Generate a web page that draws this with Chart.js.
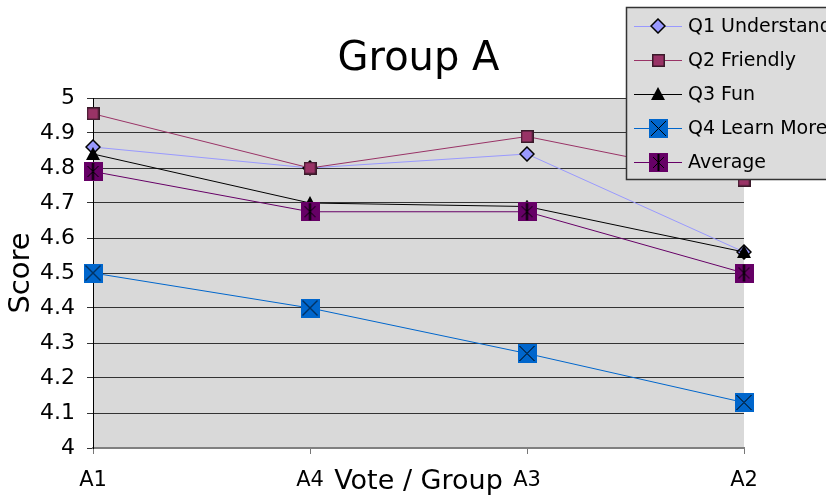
<!DOCTYPE html>
<html>
<head>
<meta charset="utf-8">
<title>Group A</title>
<script src="https://cdn.jsdelivr.net/npm/chart.js@4.4.1/dist/chart.umd.min.js"></script>
<style>
    html, body { margin: 0; padding: 0; background: #fff; }
    .canvas-container { width: 826px; height: 499px; }
</style>
</head>
<body>
<div class="canvas-container"><canvas id="groupChart" width="826" height="499"></canvas></div>
<script>
var categories = ['A1', 'A4', 'A3', 'A2'];
var q1Understand = [4.86, 4.80, 4.84, 4.56];
var q2Friendly = [4.955, 4.80, 4.89, 4.765];
var q3Fun = [4.84, 4.70, 4.69, 4.56];
var q4LearnMore = [4.50, 4.40, 4.27, 4.13];
var average = [4.79, 4.675, 4.675, 4.50];
var yTicks = [4, 4.1, 4.2, 4.3, 4.4, 4.5, 4.6, 4.7, 4.8, 4.9, 5];

(function () {
    'use strict';

    var FONT = '"DejaVu Sans", "Liberation Sans", sans-serif';

    // build a little canvas that chart.js can use as a point style
    var makeMarker = function (kind) {
        var c = document.createElement('canvas');
        var s;
        var ctx;
        if (kind === 'diamond') {
            s = 16;
            c.width = s; c.height = s;
            ctx = c.getContext('2d');
            ctx.beginPath();
            ctx.moveTo(s / 2, 1); ctx.lineTo(s - 1, s / 2); ctx.lineTo(s / 2, s - 1); ctx.lineTo(1, s / 2);
            ctx.closePath();
            ctx.fillStyle = '#9999ff';
            ctx.fill();
            ctx.lineWidth = 1.5;
            ctx.strokeStyle = '#000';
            ctx.stroke();
        } else if (kind === 'square') {
            s = 13;
            c.width = s; c.height = s;
            ctx = c.getContext('2d');
            ctx.fillStyle = '#993366';
            ctx.fillRect(0, 0, s, s);
            ctx.lineWidth = 1.5;
            ctx.strokeStyle = '#3a1a2a';
            ctx.strokeRect(0.75, 0.75, s - 1.5, s - 1.5);
        } else if (kind === 'triangle') {
            s = 14;
            c.width = s; c.height = s;
            ctx = c.getContext('2d');
            ctx.beginPath();
            ctx.moveTo(s / 2, 0); ctx.lineTo(s, s - 1); ctx.lineTo(0, s - 1);
            ctx.closePath();
            ctx.fillStyle = '#000';
            ctx.fill();
        } else if (kind === 'xbox') {
            s = 19;
            c.width = s; c.height = s;
            ctx = c.getContext('2d');
            ctx.fillStyle = '#0066cc';
            ctx.fillRect(0, 0, s, s);
            ctx.strokeStyle = '#000';
            ctx.lineWidth = 1;
            ctx.beginPath();
            ctx.moveTo(2, 2); ctx.lineTo(s - 2, s - 2);
            ctx.moveTo(s - 2, 2); ctx.lineTo(2, s - 2);
            ctx.stroke();
        } else {
            // star box for the average
            s = 19;
            c.width = s; c.height = s;
            ctx = c.getContext('2d');
            ctx.fillStyle = '#660066';
            ctx.fillRect(0, 0, s, s);
            ctx.strokeStyle = '#000';
            ctx.lineWidth = 1;
            ctx.beginPath();
            ctx.moveTo(4, 4); ctx.lineTo(s - 4, s - 4);
            ctx.moveTo(s - 4, 4); ctx.lineTo(4, s - 4);
            ctx.stroke();
            ctx.lineWidth = 2;
            ctx.beginPath();
            ctx.moveTo(s / 2, 1); ctx.lineTo(s / 2, s - 1);
            ctx.stroke();
        }
        return c;
    };

    var series = function (label, data, color, marker, order) {
        return {
            label: label,
            data: data,
            borderColor: color,
            backgroundColor: color,
            borderWidth: 1,
            pointStyle: makeMarker(marker),
            pointRadius: 8,
            tension: 0,
            clip: false,
            order: order
        };
    };

    var chartData = {
        labels: categories,
        datasets: [
            series('Q1 Understand', q1Understand, '#9999ff', 'diamond', 5),
            series('Q2 Friendly', q2Friendly, '#993366', 'square', 4),
            series('Q3 Fun', q3Fun, '#000000', 'triangle', 3),
            series('Q4 Learn More', q4LearnMore, '#0066cc', 'xbox', 2),
            series('Average', average, '#660066', 'star', 1)
        ]
    };

    // gray plot area behind the lines
    var plotBackground = {
        id: 'plotBackground',
        beforeDraw: function (chart) {
            var a = chart.chartArea;
            var ctx = chart.ctx;
            ctx.save();
            ctx.fillStyle = '#d9d9d9';
            ctx.fillRect(a.left, a.top, a.right - a.left, a.bottom - a.top);
            ctx.restore();
        }
    };

    // excel style legend box sitting over the top right corner
    var boxLegend = {
        id: 'boxLegend',
        afterDraw: function (chart) {
            var ctx = chart.ctx;
            var x = 626, y = 7, w = 210, h = 172;
            ctx.save();
            ctx.fillStyle = '#dcdcdc';
            ctx.fillRect(x, y, w, h);
            ctx.strokeStyle = '#333';
            ctx.lineWidth = 1.5;
            ctx.strokeRect(x + 0.5, y + 0.5, w, h);
            ctx.font = '19px ' + FONT;
            ctx.textBaseline = 'middle';
            ctx.fillStyle = '#000';
            chart.data.datasets.forEach(function (ds, i) {
                var cy = y + 19 + i * 34;
                ctx.strokeStyle = ds.borderColor;
                ctx.lineWidth = 1;
                ctx.beginPath();
                ctx.moveTo(634, cy + 0.5);
                ctx.lineTo(682, cy + 0.5);
                ctx.stroke();
                var m = ds.pointStyle;
                ctx.drawImage(m, Math.round(658 - m.width / 2), Math.round(cy - m.height / 2));
                ctx.fillStyle = '#000';
                ctx.fillText(ds.label, 688, cy + 1);
            });
            ctx.restore();
        }
    };

    var options = {
        responsive: false,
        animation: false,
        events: [],
        layout: {
            padding: { top: 0, left: 0, right: 82, bottom: 0 }
        },
        plugins: {
            legend: { display: false },
            tooltip: { enabled: false },
            title: {
                display: true,
                fullSize: false,
                text: 'Group A',
                color: '#000',
                font: { family: FONT, size: 40, weight: 'normal', lineHeight: 1.2 },
                padding: { top: 36, bottom: 14 }
            }
        },
        scales: {
            x: {
                type: 'category',
                offset: false,
                afterFit: function (scale) { scale.height = 51; },
                grid: {
                    drawOnChartArea: false,
                    drawTicks: true,
                    tickLength: 6,
                    color: '#777'
                },
                border: { color: '#808080', width: 2 },
                ticks: {
                    color: '#000',
                    padding: 14,
                    maxRotation: 0,
                    font: { family: FONT, size: 21 }
                },
                title: {
                    display: true,
                    text: 'Vote / Group',
                    color: '#000',
                    font: { family: FONT, size: 27 },
                    padding: { top: 0, bottom: 1 }
                }
            },
            y: {
                min: yTicks[0],
                max: yTicks[yTicks.length - 1],
                afterFit: function (scale) { scale.width = 93; },
                afterBuildTicks: function (scale) {
                    scale.ticks = yTicks.map(function (v) { return { value: v }; });
                },
                grid: {
                    color: '#333',
                    lineWidth: 1,
                    tickLength: 6
                },
                border: { color: '#000', width: 1 },
                ticks: {
                    color: '#000',
                    padding: 12,
                    font: { family: FONT, size: 22 },
                    callback: function (v) { return String(Number(v.toFixed(1))); }
                },
                title: {
                    display: true,
                    text: 'Score',
                    color: '#000',
                    font: { family: FONT, size: 29 },
                    padding: { top: 4, bottom: 0 }
                }
            }
        }
    };

    var ctx = document.getElementById('groupChart').getContext('2d');
    new Chart(ctx, {
        type: 'line',
        data: chartData,
        options: options,
        plugins: [plotBackground, boxLegend]
    });
})();
</script>
</body>
</html>
